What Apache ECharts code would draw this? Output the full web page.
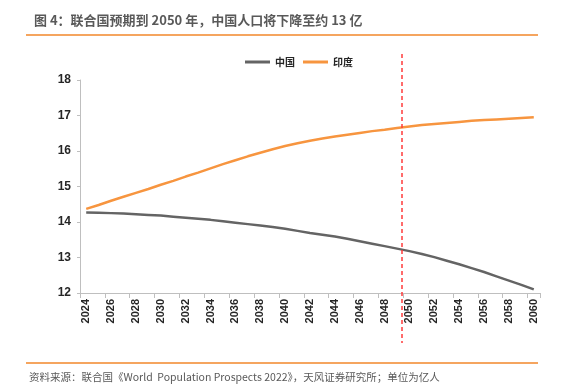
<!DOCTYPE html>
<html><head><meta charset="utf-8">
<script src="https://cdn.jsdelivr.net/npm/echarts@6/dist/echarts.min.js"></script>
<style>html,body{margin:0;padding:0;background:#fff}#c{width:562px;height:389px}</style>
</head><body><div id="c"></div>
<script>
const years = [];
for (let y = 2024; y <= 2060; y++) years.push(String(y));
const china = [14.27,14.26,14.25,14.24,14.22,14.20,14.18,14.15,14.12,14.09,14.06,14.02,13.98,13.94,13.90,13.86,13.81,13.75,13.69,13.64,13.59,13.53,13.46,13.39,13.32,13.25,13.18,13.10,13.01,12.91,12.81,12.70,12.59,12.47,12.35,12.23,12.10];
const india = [14.37,14.48,14.60,14.71,14.82,14.93,15.05,15.16,15.28,15.39,15.51,15.63,15.74,15.85,15.95,16.05,16.14,16.22,16.29,16.35,16.41,16.46,16.51,16.56,16.60,16.65,16.69,16.73,16.76,16.79,16.82,16.85,16.87,16.89,16.91,16.93,16.95];
const seriesNames = ['中国','印度'];
const markYear = '2050';
const titleText = '图 4：联合国预期到 2050 年，中国人口将下降至约 13 亿';
const sourceText = '资料来源：联合国《World  Population Prospects 2022》，天风证券研究所；单位为亿人';

const FONT = '"Noto Sans CJK SC", "Noto Sans", sans-serif';
const chart = echarts.init(document.getElementById('c'), null, {renderer:'canvas'});
const option = {
  animation: false,
  backgroundColor: '#fff',
  textStyle: {fontFamily: FONT},
  grid: {left: 80, right: 22, top: 80, bottom: 96, containLabel: false},
  legend: {
    data: seriesNames, top: 57, left: 245, padding: 0, itemWidth: 25, itemHeight: 3, itemGap: 8,
    icon: 'rect',
    textStyle: {fontFamily: FONT, fontWeight: 'bold', fontSize: 10, color: '#262626'}
  },
  xAxis: {
    type: 'category', data: years, boundaryGap: true,
    axisLine: {lineStyle: {color: '#bfbfbf', width: 1}},
    axisTick: {show: true, interval: 1, length: 5, lineStyle: {color: '#bfbfbf'}},
    axisLabel: {interval: 1, rotate: 90, margin: 6, fontFamily: '"Liberation Sans", Arial, sans-serif', fontWeight: 'bold', fontSize: 11, color: '#262626'},
    splitLine: {show: false}
  },
  yAxis: {
    type: 'value', min: 12, max: 18, interval: 1,
    axisLine: {show: true, lineStyle: {color: '#bfbfbf', width: 1}},
    axisTick: {show: true, length: 3, lineStyle: {color: '#bfbfbf'}},
    axisLabel: {margin: 9, fontFamily: '"Liberation Sans", Arial, sans-serif', fontWeight: 'bold', fontSize: 12, color: '#262626'},
    splitLine: {show: false}
  },
  series: [
    {name: seriesNames[0], type: 'line', data: china, symbol: 'none', smooth: false,
     lineStyle: {color: '#646464', width: 2.5}, itemStyle: {color: '#646464'}},
    {name: seriesNames[1], type: 'line', data: india, symbol: 'none', smooth: false,
     lineStyle: {color: '#f7953f', width: 2.5}, itemStyle: {color: '#f7953f'}}
  ]
};
chart.setOption(option);
const xa = chart.convertToPixel({xAxisIndex: 0}, markYear);
const xb = chart.convertToPixel({xAxisIndex: 0}, String(Number(markYear) - 1));
const xm = Math.round((xa + xb) / 2) - 1;
chart.setOption({
  graphic: [
    {type: 'text', left: 34, top: 14, style: {text: titleText, font: 'bold 13px ' + FONT, fill: '#595959'}},
    {type: 'rect', shape: {x: 26, y: 34, width: 512, height: 2}, style: {fill: '#f5a55f'}},
    {type: 'line', shape: {x1: xm, y1: 54, x2: xm, y2: 343}, style: {stroke: '#ff3b3b', lineWidth: 1.5, lineDash: [4, 3]}, z: 10},
    {type: 'rect', shape: {x: 26, y: 362, width: 512, height: 2}, style: {fill: '#f5a55f'}},
    {type: 'text', left: 29, top: 372, style: {text: sourceText, font: '10.5px ' + FONT, fill: '#595959'}}
  ]
});
</script>
</body></html>
